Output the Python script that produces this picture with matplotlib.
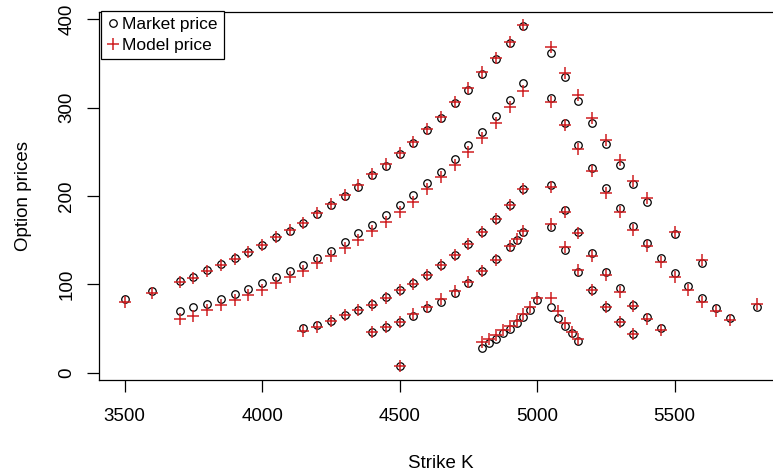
import numpy as np
import matplotlib.pyplot as plt
from matplotlib import font_manager

# strikes and prices, one maturity per block
k_a = [3500, 3600, 3700, 3750, 3800, 3850, 3900, 3950, 4000, 4050, 4100, 4150, 4200, 4250,
       4300, 4350, 4400, 4450, 4500, 4550, 4600, 4650, 4700, 4750, 4800, 4850, 4900, 4950,
       5050, 5100, 5150, 5200, 5250, 5300, 5350, 5400, 5500, 5600, 5800]
mkt_a = [83.5, 92.9, 103.9, 108.7, 116.3, 123.4, 129.9, 137.0, 145.0, 153.5, 161.0, 169.9, 180.0, 189.9,
         200.1, 210.6, 223.9, 234.5, 247.7, 259.8, 274.9, 288.1, 305.1, 320.2, 338.3, 354.9, 373.0, 392.6,
         362.4, 334.5, 308.0, 283.1, 259.0, 235.2, 213.5, 193.7, 156.7, 123.9, 74.7]
mod_a = [79.7, 89.9, 102.4, 107.6, 115.5, 122.5, 129.0, 136.5, 145.0, 153.5, 161.5, 170.0, 180.5, 191.0,
         201.0, 212.0, 225.0, 236.0, 249.0, 261.5, 276.5, 290.0, 306.5, 322.0, 340.0, 356.5, 374.5, 393.5,
         369.2, 339.8, 314.5, 288.1, 263.5, 240.9, 217.1, 197.5, 159.7, 127.6, 77.8]

k_b = [3700, 3750, 3800, 3850, 3900, 3950, 4000, 4050, 4100, 4150, 4200, 4250, 4300, 4350,
       4400, 4450, 4500, 4550, 4600, 4650, 4700, 4750, 4800, 4850, 4900, 4950,
       5050, 5100, 5150, 5200, 5250, 5300, 5350, 5400, 5450, 5500, 5550, 5600, 5650, 5700]
mkt_b = [69.9, 74.0, 78.2, 83.5, 89.1, 94.4, 101.2, 108.0, 115.0, 122.0, 129.7, 138.2, 148.0, 157.9,
         167.3, 178.6, 189.9, 201.2, 214.5, 227.7, 241.7, 257.9, 272.9, 290.7, 308.8, 327.7,
         310.7, 283.2, 257.9, 231.5, 208.8, 186.9, 166.5, 147.2, 129.5, 113.2, 98.2, 84.3, 72.9, 61.6]
mod_b = [60.4, 64.6, 70.6, 76.3, 82.0, 87.6, 94.0, 101.2, 108.0, 115.5, 123.9, 132.2, 140.9, 150.3,
         160.8, 171.0, 182.3, 193.7, 207.5, 222.0, 235.2, 250.3, 265.4, 282.4, 300.6, 319.4,
         306.9, 280.5, 253.0, 228.4, 203.9, 182.3, 161.6, 143.5, 125.7, 108.0, 93.7, 80.4, 70.2, 59.7]

k_c = [4150, 4200, 4250, 4300, 4350, 4400, 4450, 4500, 4550, 4600, 4650, 4700, 4750, 4800,
       4850, 4900, 4950, 5050, 5100, 5150, 5200, 5250, 5300, 5350, 5400, 5450]
mkt_c = [50.3, 54.0, 58.9, 65.3, 71.0, 77.8, 85.4, 93.7, 101.2, 110.6, 122.0, 133.3, 145.8, 159.0,
         173.7, 189.9, 207.7, 213.0, 184.5, 159.5, 135.9, 114.4, 95.6, 76.7, 62.7, 50.3]
mod_c = [47.6, 52.1, 58.5, 64.9, 70.6, 77.0, 85.0, 93.5, 101.0, 110.5, 122.0, 133.5, 146.0, 159.0,
         174.0, 190.0, 208.0, 210.0, 182.5, 158.0, 132.2, 110.6, 91.8, 75.5, 60.5, 48.4]

k_d = [4400, 4450, 4500, 4550, 4600, 4650, 4700, 4750, 4800, 4850, 4900, 4925, 4950,
       5050, 5100, 5150, 5200, 5250, 5300, 5350]
mkt_d = [46.4, 52.1, 57.8, 64.2, 72.9, 80.4, 89.9, 101.9, 115.2, 128.4, 142.7, 150.5, 159.7,
         165.4, 139.0, 114.4, 93.7, 74.7, 57.8, 43.8]
mod_d = [46.0, 52.0, 57.5, 66.0, 74.5, 83.5, 92.5, 102.5, 115.5, 128.0, 143.0, 151.0, 160.5,
         168.8, 141.8, 116.5, 93.7, 74.7, 57.8, 44.0]

k_e = [4800, 4825, 4850, 4875, 4900, 4925, 4950, 4975, 5000, 5050, 5075, 5100, 5125, 5150]
mkt_e = [28.3, 33.3, 38.2, 44.6, 49.5, 56.6, 63.4, 71.0, 82.5, 74.0, 62.3, 53.2, 44.6, 35.9]
mod_e = [35.1, 37.8, 42.7, 48.4, 53.2, 58.9, 66.5, 74.7, 84.5, 84.3, 69.9, 55.9, 46.4, 37.8]

k_f = [4500]
mkt_f = [7.6]
mod_f = [7.6]

xticks = [3500, 4000, 4500, 5000, 5500]
yticks = [0, 100, 200, 300, 400]

K = np.concatenate([k_a, k_b, k_c, k_d, k_e, k_f])
market = np.concatenate([mkt_a, mkt_b, mkt_c, mkt_d, mkt_e, mkt_f])
model = np.concatenate([mod_a, mod_b, mod_c, mod_d, mod_e, mod_f])

plt.rcParams['font.family'] = ['Liberation Sans', 'DejaVu Sans']

# the original text looks squeezed sideways; use the narrow cut when there is one
installed = {f.name for f in font_manager.fontManager.ttflist}
if 'Liberation Sans Narrow' in installed:
    leg_font, leg_size = 'Liberation Sans Narrow', 15.5
else:
    leg_font, leg_size = 'Liberation Sans', 12.5

W, H = 773, 475
fig = plt.figure(figsize=(W / 100, H / 100), dpi=100)

# R style axis range: data range plus 4% each side
x0, x1 = K.min(), K.max()
y_all = np.concatenate([market, model])
y0, y1 = y_all.min(), y_all.max()
xl = (x0 - 0.04 * (x1 - x0), x1 + 0.04 * (x1 - x0))
yl = (y0 - 0.04 * (y1 - y0), y1 + 0.04 * (y1 - y0))

# plot box in pixels (right edge runs past the image, as in the original)
left, right, top, bottom = 99.4, 782.5, 11.6, 379.6
ax = fig.add_axes([left / W, (H - bottom) / H, (right - left) / W, (bottom - top) / H])

ax.plot(K, market, linestyle='none', marker='o', markersize=5.4, markerfacecolor='none',
        markeredgecolor='black', markeredgewidth=0.9, label='Market price')
ax.plot(K, model, linestyle='none', marker='+', markersize=9, color='#cf1f22',
        markeredgewidth=1.1, label='Model price')

ax.set_xlim(xl)
ax.set_ylim(yl)
ax.set_xticks(xticks)
ax.set_yticks(yticks)
ax.set_yticklabels([str(v) for v in yticks], rotation=90, va='center')
ax.tick_params(direction='out', length=8.4, width=0.9, labelsize=13.5)
ax.tick_params(axis='x', pad=12)
ax.tick_params(axis='y', pad=9)

for s in ax.spines.values():
    s.set_linewidth(0.9)

ax.set_xlabel('Strike K', fontsize=13.5)
ax.set_ylabel('Option prices', fontsize=13.5)
ax.xaxis.set_label_coords(0.5, -0.206)
ax.yaxis.set_label_coords(-0.098, 0.5)

leg = ax.legend(loc='upper left', bbox_to_anchor=(0.0025, 1.0025), borderaxespad=0,
                prop={'family': leg_font, 'size': leg_size}, frameon=True, fancybox=False,
                edgecolor='black', labelspacing=0.3, borderpad=0.38, handlelength=0.6,
                handletextpad=0.2, framealpha=1)
leg.get_frame().set_linewidth(0.9)

fig.savefig('out.png', dpi=100)
